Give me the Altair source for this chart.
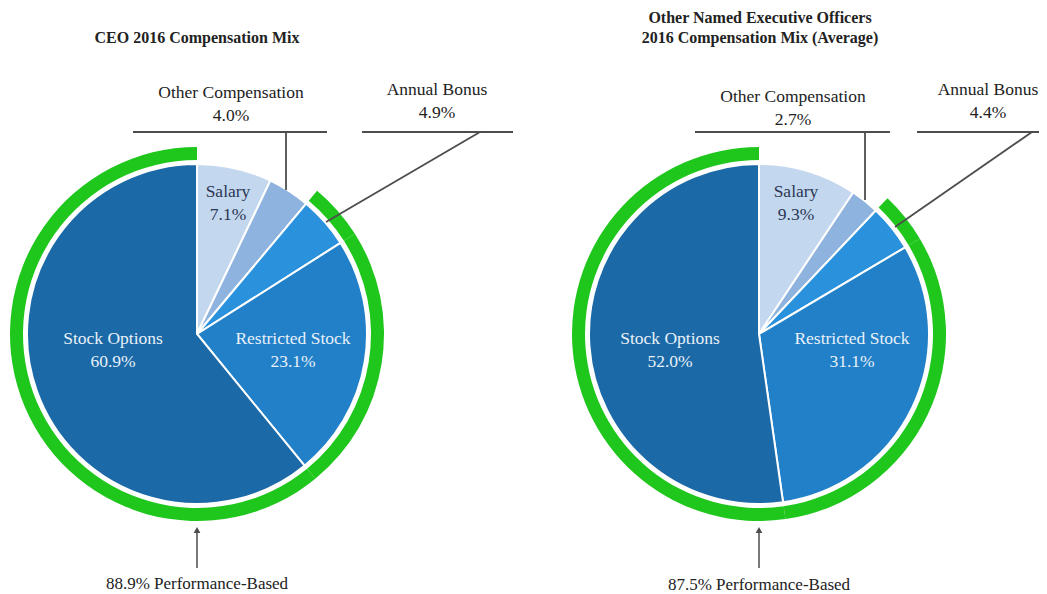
import altair as alt
import pandas as pd

# ---- data ----
components = ["Salary", "Other Compensation", "Annual Bonus", "Restricted Stock", "Stock Options"]
performance_based = [0, 0, 1, 1, 1]
ceo_values = [7.1, 4.0, 4.9, 23.1, 60.9]
neo_values = [9.3, 2.7, 4.4, 31.1, 52.0]
ceo_perf_total = 88.9
neo_perf_total = 87.5
titles = ["CEO 2016 Compensation Mix", "Other Named Executive Officers\n2016 Compensation Mix (Average)"]

# ---- styles ----
slice_colors = ["#c3d7ee", "#8db3de", "#2a91dc", "#2180c8", "#1b69a6"]
green = "#1fc61c"
serif = "Liberation Serif"
line_color = "#4d4d4d"
M = 8  # page margin

W, H = 1031, 586
blank = alt.Data(values=[{}])


def frame(values):
    return pd.DataFrame({
        "component": components,
        "value": values,
        "perf": performance_based,
        "idx": list(range(len(components))),
    })


def pie(values, cx, cy):
    df = frame(values)
    base = alt.Chart(df).encode(
        theta=alt.Theta("value:Q", stack=True),
        order=alt.Order("idx:Q"),
    )
    slices = base.mark_arc(radius=170, stroke="white", strokeWidth=2).encode(
        x=alt.value(cx - M), y=alt.value(cy - M),
        color=alt.Color("component:N", scale=alt.Scale(domain=components, range=slice_colors), legend=None),
    )
    ring = base.mark_arc(radius=187, radius2=174, color=green).encode(
        x=alt.value(cx - M), y=alt.value(cy - M),
        opacity=alt.condition("datum.perf == 1", alt.value(1), alt.value(0)),
    )
    return [ring, slices]


def txt(s, x, y, size=17.5, color="#222222", bold=False, lh=23):
    # y = centre of the first line
    return alt.Chart(blank).mark_text(
        text=s, font=serif, fontSize=size, fontWeight="bold" if bold else "normal",
        color=color, lineBreak="\n", lineHeight=lh, baseline="middle", align="center",
    ).encode(x=alt.value(x - M), y=alt.value(y - M))


def seg(x1, y1, x2, y2, w=1.8):
    return alt.Chart(blank).mark_rule(color=line_color, strokeWidth=w).encode(
        x=alt.value(x1 - M), y=alt.value(y1 - M), x2=alt.value(x2 - M), y2=alt.value(y2 - M))


def arrow(x, y_tip, y_tail):
    head = alt.Chart(blank).mark_point(shape="triangle-up", filled=True, size=45, color=line_color, opacity=1).encode(
        x=alt.value(x - M), y=alt.value(y_tip + 3 - M))
    return [seg(x, y_tip + 4, x, y_tail, 1.5), head]


def lab(i, vals):
    return f"{components[i]}\n{vals[i]:.1f}%"


layers = []
# Left pie (CEO)
layers += pie(ceo_values, 197, 334)
layers += [
    txt(titles[0], 197, 38, size=16, bold=True),
    txt(lab(1, ceo_values), 231, 93),
    txt(lab(2, ceo_values), 437, 90),
    seg(133, 132, 327, 132), seg(286, 132, 286, 190),
    seg(362, 132, 513, 132), seg(480, 132, 326, 222),
    txt(lab(0, ceo_values), 228, 192, color="#2b3854"),
    txt(lab(4, ceo_values), 113, 339, color="#e9f1f9"),
    txt(lab(3, ceo_values), 293, 339, color="#e9f1f9"),
    txt(f"{ceo_perf_total:.1f}% Performance-Based", 197, 584, size=17),
]
layers += arrow(197, 527, 568)

# Right pie (other NEOs)
layers += pie(neo_values, 759, 334)
layers += [
    txt(titles[1], 760, 18, size=16, bold=True, lh=20),
    txt(lab(1, neo_values), 793, 97),
    txt(lab(2, neo_values), 988, 90),
    seg(695, 132, 890, 132), seg(865, 132, 865, 200),
    seg(917, 132, 1047, 132), seg(1032, 132, 895, 227),
    txt(lab(0, neo_values), 796, 192, color="#2b3854"),
    txt(lab(4, neo_values), 670, 339, color="#e9f1f9"),
    txt(lab(3, neo_values), 852, 339, color="#e9f1f9"),
    txt(f"{neo_perf_total:.1f}% Performance-Based", 759, 585, size=17),
]
layers += arrow(759, 527, 568)

chart = alt.layer(*layers).resolve_scale(
    theta="independent", color="independent", opacity="independent"
).properties(
    width=W, height=H, padding=0, autosize="none", background="white"
).configure_view(strokeWidth=0)

chart.save("out.html", embed_options={"renderer": "svg", "actions": False})
